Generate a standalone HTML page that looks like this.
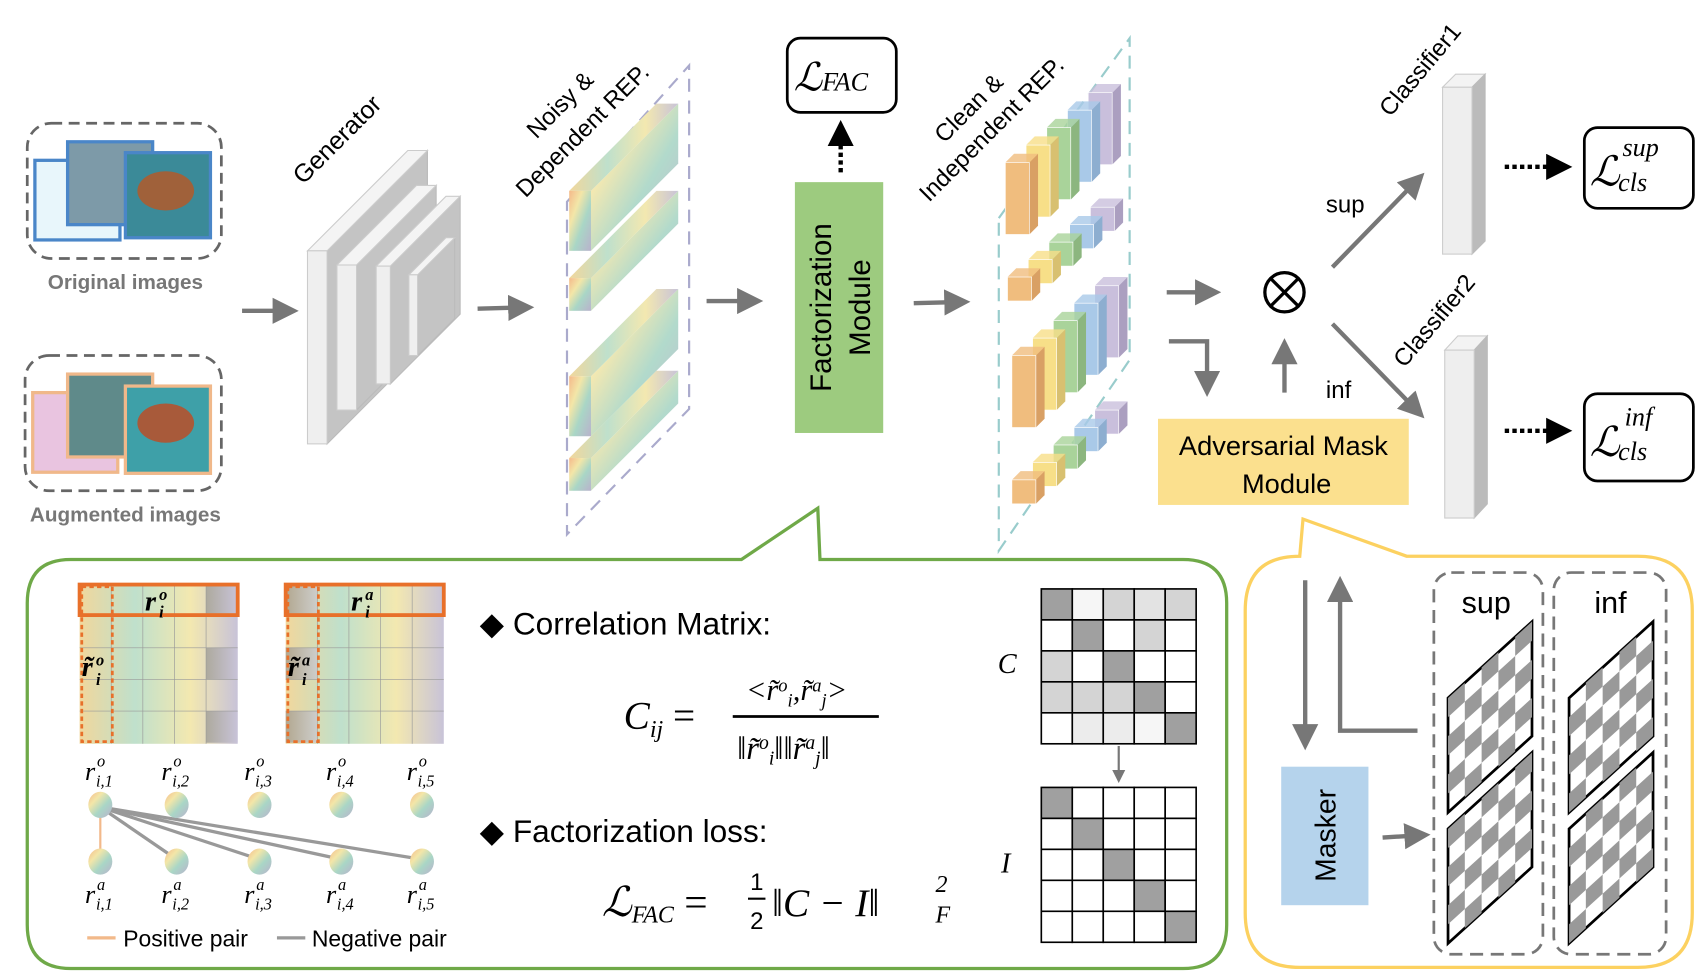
<!DOCTYPE html>
<html><head><meta charset="utf-8"><style>
html,body{margin:0;padding:0;background:#fff}
svg{display:block}
.s{font-family:"Liberation Sans",sans-serif}
.m{font-family:"Liberation Serif",serif;font-style:italic}
</style></head><body>
<svg id="fig" width="1701" height="975" viewBox="0 0 1560 894" preserveAspectRatio="none" xmlns="http://www.w3.org/2000/svg">
<defs>
<linearGradient id="rain" x1="0" y1="0" x2="1" y2="1">
<stop offset="0" stop-color="#f4b98a"/><stop offset="0.3" stop-color="#f3e6a8"/><stop offset="0.6" stop-color="#a9d6c6"/><stop offset="1" stop-color="#b9b2cc"/></linearGradient>
<linearGradient id="rain2" x1="0" y1="0" x2="1" y2="0">
<stop offset="0" stop-color="#f1d79c"/><stop offset="0.35" stop-color="#bfe0cc"/><stop offset="0.7" stop-color="#f3e8b0"/><stop offset="1" stop-color="#c8c3d8"/></linearGradient>
<linearGradient id="gray" x1="0" y1="0" x2="1" y2="0"><stop offset="0" stop-color="#888"/><stop offset="1" stop-color="#c8c3d8"/></linearGradient>
<marker id="ah" markerWidth="6" markerHeight="6" refX="3" refY="3" orient="auto"><path d="M0,0L6,3L0,6z" fill="#777"/></marker>
<marker id="ahk" markerWidth="6" markerHeight="6" refX="3" refY="3" orient="auto"><path d="M0,0L6,3L0,6z" fill="#000"/></marker>
</defs>

<g>
<rect x="25" y="113" width="178" height="124" rx="22" fill="none" stroke="#666" stroke-width="2.5" stroke-dasharray="10,6"/>
<rect x="32" y="147" width="78" height="73" fill="#e8f6fb" stroke="#4a86c8" stroke-width="3"/>
<rect x="62" y="130" width="78" height="76" fill="#7d9aa8" stroke="#4a86c8" stroke-width="3"/>
<rect x="115" y="140" width="78" height="78" fill="#3b8a98" stroke="#4a86c8" stroke-width="3"/>
<ellipse cx="152" cy="175" rx="26" ry="18" fill="#a0613a"/>
</g>
<text class="s" x="115" y="265" font-size="19" font-weight="bold" fill="#777" text-anchor="middle">Original images</text>
<g>
<rect x="23" y="326" width="180" height="124" rx="22" fill="none" stroke="#666" stroke-width="2.5" stroke-dasharray="10,6"/>
<rect x="30" y="360" width="78" height="73" fill="#e9c4e0" stroke="#f0b88a" stroke-width="3"/>
<rect x="62" y="343" width="78" height="76" fill="#5f8a8a" stroke="#f0b88a" stroke-width="3"/>
<rect x="115" y="354" width="78" height="80" fill="#3ea0a8" stroke="#f0b88a" stroke-width="3"/>
<ellipse cx="152" cy="388" rx="26" ry="18" fill="#a85a3a"/>
</g>
<text class="s" x="115" y="478" font-size="19" font-weight="bold" fill="#777" text-anchor="middle">Augmented images</text>

<g stroke="#777" stroke-width="4" fill="none">
<line x1="222" y1="285" x2="262" y2="285" marker-end="url(#ah)"/>
<line x1="438" y1="283" x2="478" y2="282" marker-end="url(#ah)"/>
<line x1="648" y1="276" x2="688" y2="276" marker-end="url(#ah)"/>
<line x1="838" y1="278" x2="878" y2="277" marker-end="url(#ah)"/>
<line x1="1070" y1="268" x2="1108" y2="268" marker-end="url(#ah)"/>
<polyline points="1072,313 1107,313 1107,352" marker-end="url(#ah)"/>
<line x1="1178" y1="360" x2="1178" y2="322" marker-end="url(#ah)"/>
<line x1="1222" y1="245" x2="1298" y2="167" marker-end="url(#ah)"/>
<line x1="1222" y1="297" x2="1298" y2="375" marker-end="url(#ah)"/>
</g>

<g id="gen"></g>
<text class="s" font-size="23" transform="translate(278,170) rotate(-45)">Generator</text>

<polygon points="520,185 632,60 632,375 520,490" fill="none" stroke="#aac" stroke-width="2" stroke-dasharray="12,8"/>
<g id="noisy"></g>
<text class="s" font-size="22" transform="translate(492,128) rotate(-45)">Noisy &amp;</text>
<text class="s" font-size="22" transform="translate(482,182) rotate(-45)">Dependent REP.</text>

<rect x="729" y="167" width="81" height="230" fill="#9dcb7f"/>
<text class="s" font-size="27" text-anchor="middle" transform="translate(762,282) rotate(-90)">Factorization</text>
<text class="s" font-size="27" text-anchor="middle" transform="translate(798,282) rotate(-90)">Module</text>
<line x1="771" y1="158" x2="771" y2="122" stroke="#000" stroke-width="4" stroke-dasharray="4,3" marker-end="url(#ahk)"/>
<rect x="722" y="35" width="100" height="68" rx="12" fill="#fff" stroke="#000" stroke-width="2.5"/>
<text class="m" x="728" y="83" font-size="36">ℒ<tspan font-size="24">FAC</tspan></text>

<polygon points="916,200 1036,35 1036,330 916,505" fill="none" stroke="#9cc" stroke-width="2" stroke-dasharray="12,8"/>
<g id="clean"></g>
<text class="s" font-size="22" transform="translate(866,132) rotate(-45)">Clean &amp;</text>
<text class="s" font-size="22" transform="translate(852,186) rotate(-45)">Independent REP.</text>

<circle cx="1178" cy="268" r="18" fill="none" stroke="#000" stroke-width="3"/>
<line x1="1165" y1="255" x2="1191" y2="281" stroke="#000" stroke-width="3"/><line x1="1191" y1="255" x2="1165" y2="281" stroke="#000" stroke-width="3"/>
<text class="s" x="1216" y="195" font-size="22">sup</text>
<text class="s" x="1216" y="365" font-size="22">inf</text>
<rect x="1062" y="384" width="230" height="79" fill="#fbe08e"/>
<text class="s" x="1177" y="417" font-size="25" text-anchor="middle">Adversarial Mask</text>
<text class="s" x="1180" y="452" font-size="25" text-anchor="middle">Module</text>

<g>
<polygon points="1323,80 1335,68 1362,68 1350,80" fill="#f3f3f3" stroke="#ccc"/>
<polygon points="1350,80 1362,68 1362,221 1350,233" fill="#bbb" stroke="#bbb"/>
<rect x="1323" y="80" width="27" height="153" fill="#eee" stroke="#ccc"/></g>
<text class="s" font-size="22" transform="translate(1275,108) rotate(-50)">Classifier1</text>
<g>
<polygon points="1325,321 1337,308 1364,308 1352,321" fill="#f3f3f3" stroke="#ccc"/>
<polygon points="1352,321 1364,308 1364,462 1352,475" fill="#bbb" stroke="#bbb"/>
<rect x="1325" y="321" width="27" height="154" fill="#eee" stroke="#ccc"/></g>
<text class="s" font-size="22" transform="translate(1288,338) rotate(-50)">Classifier2</text>
<line x1="1380" y1="153" x2="1430" y2="153" stroke="#000" stroke-width="4" stroke-dasharray="4,3" marker-end="url(#ahk)"/>
<line x1="1380" y1="395" x2="1430" y2="395" stroke="#000" stroke-width="4" stroke-dasharray="4,3" marker-end="url(#ahk)"/>
<rect x="1453" y="117" width="100" height="74" rx="12" fill="#fff" stroke="#000" stroke-width="2.5"/>
<text class="m" x="1458" y="170" font-size="38">ℒ</text><text class="m" x="1488" y="143" font-size="24">sup</text><text class="m" x="1484" y="175" font-size="24">cls</text>
<rect x="1453" y="361" width="100" height="80" rx="12" fill="#fff" stroke="#000" stroke-width="2.5"/>
<text class="m" x="1458" y="418" font-size="38">ℒ</text><text class="m" x="1490" y="390" font-size="24">inf</text><text class="m" x="1484" y="422" font-size="24">cls</text>

<path d="M65,513 L680,513 L750,466 L752,513 L1085,513 Q1125,513 1125,553 L1125,848 Q1125,888 1085,888 L65,888 Q25,888 25,848 L25,553 Q25,513 65,513 Z" fill="#fff" stroke="#6fa948" stroke-width="3"/>
<path d="M1192,510 L1195,476 L1290,510 L1502,510 Q1552,510 1552,560 L1552,837 Q1552,887 1502,887 L1192,887 Q1142,887 1142,837 L1142,560 Q1142,510 1192,510 Z" fill="#fff" stroke="#fcd160" stroke-width="3"/>

<g id="heat"></g>
<g id="pairs"></g>
<line x1="80" y1="860" x2="106" y2="860" stroke="#f2b98a" stroke-width="3"/>
<text class="s" x="113" y="868" font-size="21">Positive pair</text>
<line x1="254" y1="860" x2="280" y2="860" stroke="#999" stroke-width="3"/>
<text class="s" x="286" y="868" font-size="21">Negative pair</text>

<text class="s" x="440" y="582" font-size="29">◆ Correlation Matrix:</text>
<text class="m" x="572" y="668" font-size="36">C<tspan font-size="22" dy="8">ij</tspan><tspan dy="-8" font-style="normal"> =</tspan></text>
<line x1="672" y1="657" x2="806" y2="657" stroke="#000" stroke-width="2.5"/>
<text class="m" x="684" y="642" font-size="28">&lt;r̃<tspan font-size="17" dy="-8">o</tspan><tspan font-size="17" dy="14">i</tspan><tspan dy="-6">,r̃</tspan><tspan font-size="17" dy="-8">a</tspan><tspan font-size="17" dy="14">j</tspan><tspan dy="-6">&gt;</tspan></text>
<text class="m" x="676" y="696" font-size="30">‖r̃<tspan font-size="18" dy="-9">o</tspan><tspan font-size="18" dy="14">i</tspan><tspan dy="-5">‖‖r̃</tspan><tspan font-size="18" dy="-9">a</tspan><tspan font-size="18" dy="14">j</tspan><tspan dy="-5">‖</tspan></text>
<text class="s" x="440" y="772" font-size="29">◆ Factorization loss:</text>
<text class="m" x="552" y="840" font-size="38">ℒ<tspan font-size="22" dy="6">FAC</tspan><tspan dy="-6" font-style="normal"> = </tspan></text>
<text class="s" x="688" y="816" font-size="22">1</text><line x1="686" y1="824" x2="702" y2="824" stroke="#000" stroke-width="2"/><text class="s" x="688" y="852" font-size="22">2</text>
<text class="m" x="708" y="840" font-size="36">‖C − I‖</text><text class="m" x="858" y="818" font-size="22">2</text><text class="m" x="858" y="846" font-size="22">F</text>
<text class="m" x="915" y="617" font-size="26">C</text>
<text class="m" x="918" y="800" font-size="26">I</text>
<g id="mats"></g>
<line x1="1026" y1="684" x2="1026" y2="712" stroke="#777" stroke-width="2" marker-end="url(#ah)"/>

<g stroke="#777" stroke-width="4" fill="none">
<line x1="1197" y1="532" x2="1197" y2="676" marker-end="url(#ah)"/>
<polyline points="1300,670 1229,670 1229,540" marker-end="url(#ah)"/>
<line x1="1268" y1="768" x2="1300" y2="766" marker-end="url(#ah)"/>
</g>
<rect x="1175" y="703" width="80" height="127" fill="#b5d3ec"/>
<text class="s" font-size="26" text-anchor="middle" transform="translate(1225,766) rotate(-90)">Masker</text>
<rect x="1315" y="525" width="100" height="350" rx="16" fill="none" stroke="#777" stroke-width="2.5" stroke-dasharray="12,7"/>
<rect x="1425" y="525" width="103" height="350" rx="16" fill="none" stroke="#777" stroke-width="2.5" stroke-dasharray="12,7"/>
<text class="s" x="1363" y="562" font-size="28" text-anchor="middle">sup</text>
<text class="s" x="1477" y="562" font-size="28" text-anchor="middle">inf</text>
<g id="masks"></g>
</svg>
<script>
const NS="http://www.w3.org/2000/svg";
// correlation matrix gray levels (0 = white, 1 = darkest)
const corrRow0=[1,0.1,0.45,0.3,0.45];
const corrRow1=[0,1,0,0.45,0];
const corrRow2=[0.45,0,1,0,0];
const corrRow3=[0.45,0.45,0.45,1,0];
const corrRow4=[0,0.2,0.2,0.1,1];
const corrRows=[corrRow0,corrRow1,corrRow2,corrRow3,corrRow4];
const identityDiag=[1,1,1,1,1];
function mk(tag,attrs,parent){const e=document.createElementNS(NS,tag);for(const k in attrs)e.setAttribute(k,attrs[k]);parent.appendChild(e);return e;}
function shade(v){const c=Math.round(255-v*(255-160));return `rgb(${c},${c},${c})`;}
const mats=document.getElementById('mats');
function drawMat(x0,y0,getV,name){
  const cw=28.4,ch=28.4;
  for(let r=0;r<5;r++)for(let c=0;c<5;c++){
    const e=mk('rect',{x:x0+c*cw,y:y0+r*ch,width:cw,height:ch,fill:shade(getV(r,c)),stroke:'#000','stroke-width':1.5},mats);
    
    
  }
}
drawMat(955,540,(r,c)=>corrRows[r][c],'c-matrix');
drawMat(955,722,(r,c)=>r===c?identityDiag[r]:0,'i-matrix');

const gen=document.getElementById('gen');
[[282,230,300,407,92],[309,243,327,376,73],[345,244,358,352,64],[375,252,383,326,34]].forEach(([x1,y1,x2,y2,d])=>{
  mk('polygon',{points:`${x2},${y1} ${x2+d},${y1-d} ${x2+d},${y2-d} ${x2},${y2}`,fill:'#c4c4c4',stroke:'#bbb'},gen);
  mk('polygon',{points:`${x1},${y1} ${x1+d},${y1-d} ${x2+d},${y1-d} ${x2},${y1}`,fill:'#f4f4f4',stroke:'#ccc'},gen);
  mk('rect',{x:x1,y:y1,width:x2-x1,height:y2-y1,fill:'#efefef',stroke:'#ccc'},gen);
});
const noisy=document.getElementById('noisy');
[[175,55],[255,30],[345,55],[420,30]].forEach(([y,h])=>{
  const d=80,w=20;
  mk('polygon',{points:`${522+w},${y} ${522+w+d},${y-d} ${522+w+d},${y-d+h} ${522+w},${y+h}`,fill:'url(#rain)',opacity:0.9},noisy);
  mk('polygon',{points:`522,${y} ${522+d},${y-d} ${522+w+d},${y-d} ${522+w},${y}`,fill:'url(#rain2)'},noisy);
  mk('rect',{x:522,y:y,width:w,height:h,fill:'url(#rain)'},noisy);
});
const clean=document.getElementById('clean');
const cols=['#f0bd7e','#f7df88','#a9d39a','#a9c9e8','#c9bfdc'];
const sides=['#d9a064','#d8c070','#8cb67f','#8daed0','#ab9fc0'];
[[922,215,[3,3,3,3,3]],[924,276,[1,1,1,1,1]],[928,392,[3,3,3,3,3]],[928,462,[1,1,1,1,1]]].forEach(([x0,y0,hs])=>{
  for(let i=4;i>=0;i--){
    const x=x0+i*19, yb=y0-i*16, s=22, h=hs[i]*22, d=8;
    mk('polygon',{points:`${x+s},${yb-h} ${x+s+d},${yb-h-8} ${x+s+d},${yb-8} ${x+s},${yb}`,fill:sides[i]},clean);
    mk('polygon',{points:`${x},${yb-h} ${x+d},${yb-h-8} ${x+s+d},${yb-h-8} ${x+s},${yb-h}`,fill:cols[i],opacity:0.8},clean);
    mk('rect',{x:x,y:yb-h,width:s,height:h,fill:cols[i],stroke:'#fff','stroke-width':0.6},clean);
  }
});
const heat=document.getElementById('heat');
[[73,'o'],[262,'a']].forEach(([x0,t])=>{
  mk('rect',{x:x0,y:536,width:145,height:146,fill:'url(#rain2)'},heat);
  [0,2,4].forEach(r=>mk('rect',{x:x0+(t==='o'?116:0),y:536+r*29,width:29,height:29,fill:'url(#gray)',opacity:0.6},heat));
  for(let i=1;i<5;i++){mk('line',{x1:x0+i*29,y1:536,x2:x0+i*29,y2:682,stroke:'#999','stroke-width':0.6},heat);mk('line',{x1:x0,y1:536+i*29,x2:x0+145,y2:536+i*29,stroke:'#999','stroke-width':0.6},heat);}
  mk('rect',{x:x0,y:536,width:145,height:28,fill:'none',stroke:'#e8702a','stroke-width':3.5},heat);
  mk('rect',{x:x0+2,y:538,width:28,height:142,fill:'none',stroke:'#e8702a','stroke-width':2.5,'stroke-dasharray':'4,3'},heat);
  const a=mk('text',{x:x0+60,y:560,'font-size':26,class:'m','font-weight':'bold'},heat);a.textContent='r';
  const sa=mk('text',{x:x0+73,y:550,'font-size':15,class:'m','font-weight':'bold'},heat);sa.textContent=t;
  const sa2=mk('text',{x:x0+73,y:566,'font-size':15,class:'m','font-weight':'bold'},heat);sa2.textContent='i';
  const b=mk('text',{x:x0+2,y:620,'font-size':26,class:'m','font-weight':'bold'},heat);b.textContent='r̃';
  const sb=mk('text',{x:x0+15,y:610,'font-size':15,class:'m','font-weight':'bold'},heat);sb.textContent=t;
  const sb2=mk('text',{x:x0+15,y:628,'font-size':15,class:'m','font-weight':'bold'},heat);sb2.textContent='i';
});
const pairs=document.getElementById('pairs');
const px=[92,162,238,313,387];
px.forEach((x,i)=>{
  if(i>0) mk('line',{x1:92,y1:740,x2:x,y2:788,stroke:'#999','stroke-width':3},pairs);
});
mk('line',{x1:92,y1:740,x2:92,y2:788,stroke:'#f2b98a','stroke-width':2},pairs);
px.forEach((x,i)=>{
  mk('ellipse',{cx:x,cy:738,rx:11,ry:12,fill:'url(#rain)'},pairs);
  mk('ellipse',{cx:x,cy:790,rx:11,ry:12,fill:'url(#rain)'},pairs);
  const t1=mk('text',{x:x-14,y:715,'font-size':24,class:'m'},pairs);t1.textContent='r';
  const s1=mk('text',{x:x-3,y:703,'font-size':15,class:'m'},pairs);s1.textContent='o';
  const s2=mk('text',{x:x-4,y:721,'font-size':15,class:'m'},pairs);s2.textContent='i,'+(i+1);
  const t2=mk('text',{x:x-14,y:828,'font-size':24,class:'m'},pairs);t2.textContent='r';
  const s3=mk('text',{x:x-3,y:816,'font-size':15,class:'m'},pairs);s3.textContent='a';
  const s4=mk('text',{x:x-4,y:834,'font-size':15,class:'m'},pairs);s4.textContent='i,'+(i+1);
});
const masks=document.getElementById('masks');
[[1328,0],[1439,1]].forEach(([x0,k])=>{
  [745,865].forEach(yb=>{
    const w=77, h=105, sk=70;
    mk('polygon',{points:`${x0},${yb} ${x0+w},${yb-sk} ${x0+w},${yb-sk-h} ${x0},${yb-h}`,fill:'#fff',stroke:'#000','stroke-width':2.5},masks);
    for(let c=0;c<5;c++)for(let r=0;r<6;r++){
      if((r+c+k)%2===0){const cw=w/5,rh=h/6;const xa=x0+c*cw,ya=yb-h+r*rh-c*cw*sk/w;
        mk('polygon',{points:`${xa},${ya} ${xa+cw},${ya-cw*sk/w} ${xa+cw},${ya-cw*sk/w+rh} ${xa},${ya+rh}`,fill:'#999'},masks);}
    }
  });
});
</script>
</body></html>
